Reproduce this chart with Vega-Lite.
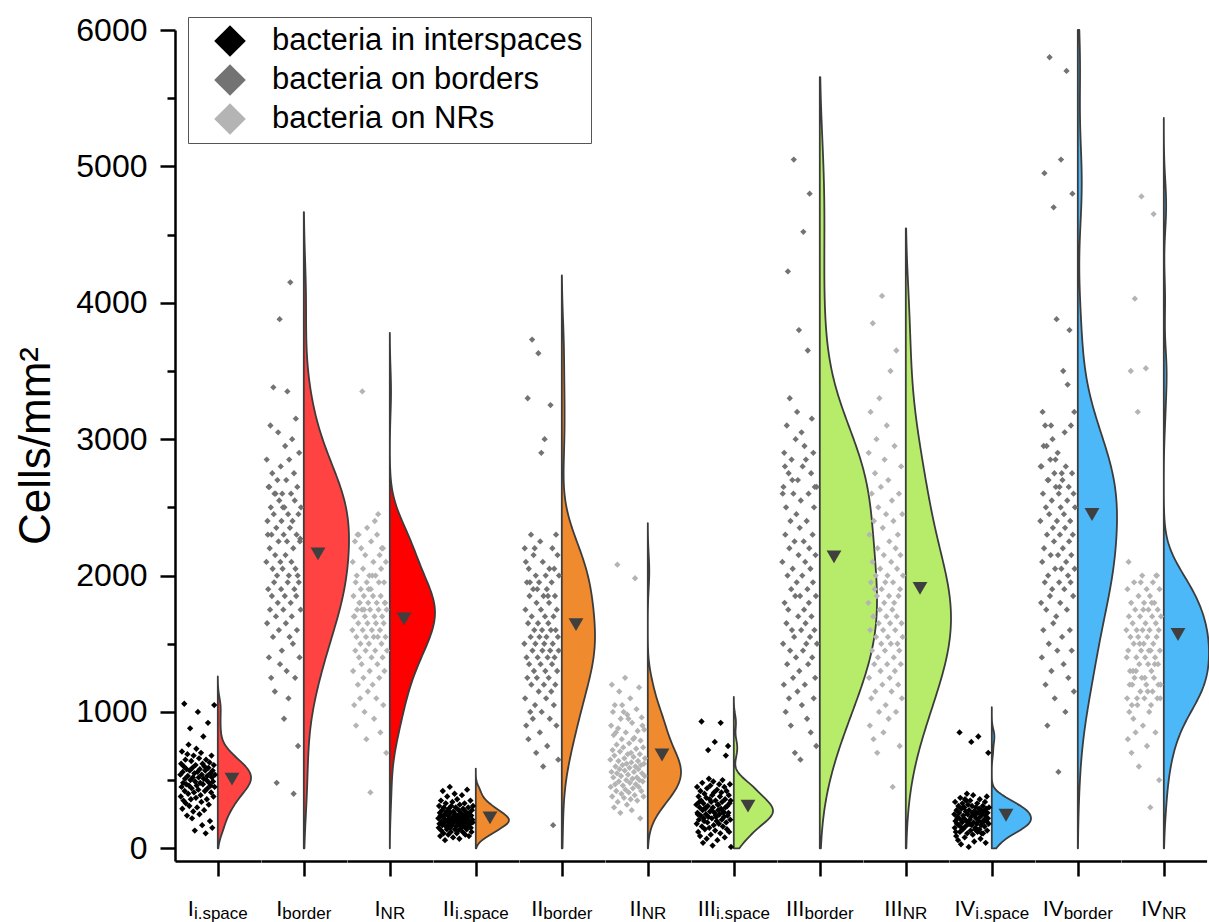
{
"$schema": "https://vega.github.io/schema/vega-lite/v6.json",
"padding": {"left": 14, "top": 14, "right": 0, "bottom": 0},
"bounds": "flush",
"config": {"font": "Liberation Sans", "view": {"stroke": null}},
"datasets": {
"labs": [
{"g":1,"main":"I","sub":"i.space","cat":"bacteria in interspaces"},
{"g":2,"main":"I","sub":"border","cat":"bacteria on borders"},
{"g":3,"main":"I","sub":"NR","cat":"bacteria on NRs"},
{"g":4,"main":"II","sub":"i.space","cat":"bacteria in interspaces"},
{"g":5,"main":"II","sub":"border","cat":"bacteria on borders"},
{"g":6,"main":"II","sub":"NR","cat":"bacteria on NRs"},
{"g":7,"main":"III","sub":"i.space","cat":"bacteria in interspaces"},
{"g":8,"main":"III","sub":"border","cat":"bacteria on borders"},
{"g":9,"main":"III","sub":"NR","cat":"bacteria on NRs"},
{"g":10,"main":"IV","sub":"i.space","cat":"bacteria in interspaces"},
{"g":11,"main":"IV","sub":"border","cat":"bacteria on borders"},
{"g":12,"main":"IV","sub":"NR","cat":"bacteria on NRs"}
],
"pts": [
{"g":1,"v":540},{"g":1,"v":380},{"g":1,"v":620},{"g":1,"v":450},{"g":1,"v":710},{"g":1,"v":290},{"g":1,"v":560},{"g":1,"v":480},{"g":1,"v":350},{"g":1,"v":600},{"g":1,"v":1060},{"g":1,"v":420},{"g":1,"v":510},{"g":1,"v":650},{"g":1,"v":330},{"g":1,"v":470},{"g":1,"v":580},{"g":1,"v":240},{"g":1,"v":690},{"g":1,"v":530},{"g":1,"v":400},{"g":1,"v":760},{"g":1,"v":460},{"g":1,"v":310},{"g":1,"v":570},{"g":1,"v":880},{"g":1,"v":500},{"g":1,"v":360},{"g":1,"v":640},{"g":1,"v":440},{"g":1,"v":220},{"g":1,"v":590},{"g":1,"v":520},{"g":1,"v":270},{"g":1,"v":680},{"g":1,"v":410},{"g":1,"v":550},{"g":1,"v":130},{"g":1,"v":490},{"g":1,"v":610},{"g":1,"v":370},{"g":1,"v":730},{"g":1,"v":460},{"g":1,"v":300},{"g":1,"v":560},{"g":1,"v":1000},{"g":1,"v":430},{"g":1,"v":520},{"g":1,"v":660},{"g":1,"v":250},{"g":1,"v":580},{"g":1,"v":480},{"g":1,"v":390},{"g":1,"v":700},{"g":1,"v":340},{"g":1,"v":540},{"g":1,"v":170},{"g":1,"v":620},{"g":1,"v":470},{"g":1,"v":820},{"g":1,"v":510},{"g":1,"v":280},{"g":1,"v":600},{"g":1,"v":420},{"g":1,"v":570},{"g":1,"v":110},{"g":1,"v":650},{"g":1,"v":500},{"g":1,"v":360},{"g":1,"v":530},{"g":1,"v":440},{"g":1,"v":920},{"g":1,"v":590},{"g":1,"v":320},{"g":1,"v":480},{"g":1,"v":630},{"g":1,"v":200},{"g":1,"v":550},{"g":1,"v":460},{"g":1,"v":410},{"g":1,"v":680},{"g":1,"v":520},{"g":1,"v":150},{"g":1,"v":570},{"g":1,"v":490},{"g":1,"v":380},{"g":1,"v":610},{"g":1,"v":1050},{"g":1,"v":450},{"g":1,"v":540},
{"g":2,"v":2100},{"g":2,"v":2850},{"g":2,"v":1650},{"g":2,"v":2400},{"g":2,"v":2300},{"g":2,"v":1900},{"g":2,"v":2650},{"g":2,"v":1400},{"g":2,"v":2650},{"g":2,"v":2200},{"g":2,"v":1750},{"g":2,"v":3100},{"g":2,"v":2500},{"g":2,"v":1250},{"g":2,"v":2300},{"g":2,"v":1850},{"g":2,"v":2750},{"g":2,"v":2050},{"g":2,"v":1550},{"g":2,"v":3380},{"g":2,"v":2450},{"g":2,"v":1950},{"g":2,"v":2600},{"g":2,"v":1150},{"g":2,"v":2150},{"g":2,"v":2600},{"g":2,"v":1700},{"g":2,"v":2350},{"g":2,"v":480},{"g":2,"v":2000},{"g":2,"v":2700},{"g":2,"v":1800},{"g":2,"v":3050},{"g":2,"v":2250},{"g":2,"v":1600},{"g":2,"v":2550},{"g":2,"v":3880},{"g":2,"v":1350},{"g":2,"v":2100},{"g":2,"v":2800},{"g":2,"v":1900},{"g":2,"v":2400},{"g":2,"v":1450},{"g":2,"v":2600},{"g":2,"v":2050},{"g":2,"v":2500},{"g":2,"v":1750},{"g":2,"v":2300},{"g":2,"v":950},{"g":2,"v":2500},{"g":2,"v":1850},{"g":2,"v":2950},{"g":2,"v":2150},{"g":2,"v":1650},{"g":2,"v":2700},{"g":2,"v":1300},{"g":2,"v":2250},{"g":2,"v":3350},{"g":2,"v":1950},{"g":2,"v":2450},{"g":2,"v":1100},{"g":2,"v":2000},{"g":2,"v":2850},{"g":2,"v":1550},{"g":2,"v":2350},{"g":2,"v":4150},{"g":2,"v":1800},{"g":2,"v":2600},{"g":2,"v":2100},{"g":2,"v":1700},{"g":2,"v":3000},{"g":2,"v":2400},{"g":2,"v":1500},{"g":2,"v":2200},{"g":2,"v":400},{"g":2,"v":2750},{"g":2,"v":1900},{"g":2,"v":2550},{"g":2,"v":1250},{"g":2,"v":2050},{"g":2,"v":3150},{"g":2,"v":1850},{"g":2,"v":2300},{"g":2,"v":1600},{"g":2,"v":2650},{"g":2,"v":2000},{"g":2,"v":750},{"g":2,"v":2450},{"g":2,"v":1950},{"g":2,"v":2900},{"g":2,"v":1400},{"g":2,"v":2250},{"g":2,"v":2270},{"g":2,"v":1750},{"g":2,"v":2500},
{"g":3,"v":1600},{"g":3,"v":2100},{"g":3,"v":1300},{"g":3,"v":1850},{"g":3,"v":1700},{"g":3,"v":1050},{"g":3,"v":1700},{"g":3,"v":2250},{"g":3,"v":1450},{"g":3,"v":1950},{"g":3,"v":900},{"g":3,"v":1550},{"g":3,"v":2000},{"g":3,"v":1750},{"g":3,"v":2300},{"g":3,"v":1200},{"g":3,"v":1650},{"g":3,"v":2300},{"g":3,"v":1400},{"g":3,"v":1800},{"g":3,"v":1800},{"g":3,"v":1100},{"g":3,"v":1500},{"g":3,"v":1900},{"g":3,"v":2200},{"g":3,"v":1350},{"g":3,"v":1750},{"g":3,"v":3350},{"g":3,"v":1600},{"g":3,"v":2050},{"g":3,"v":1250},{"g":3,"v":1850},{"g":3,"v":1750},{"g":3,"v":1000},{"g":3,"v":1700},{"g":3,"v":2150},{"g":3,"v":1450},{"g":3,"v":1550},{"g":3,"v":800},{"g":3,"v":1950},{"g":3,"v":2350},{"g":3,"v":1650},{"g":3,"v":1150},{"g":3,"v":1800},{"g":3,"v":1900},{"g":3,"v":1500},{"g":3,"v":2000},{"g":3,"v":1300},{"g":3,"v":1750},{"g":3,"v":410},{"g":3,"v":1900},{"g":3,"v":2250},{"g":3,"v":1400},{"g":3,"v":1600},{"g":3,"v":2000},{"g":3,"v":1200},{"g":3,"v":1850},{"g":3,"v":2100},{"g":3,"v":1550},{"g":3,"v":950},{"g":3,"v":1700},{"g":3,"v":2400},{"g":3,"v":1450},{"g":3,"v":2000},{"g":3,"v":1650},{"g":3,"v":1100},{"g":3,"v":1800},{"g":3,"v":2300},{"g":3,"v":1350},{"g":3,"v":1550},{"g":3,"v":2450},{"g":3,"v":1750},{"g":3,"v":1950},{"g":3,"v":1250},{"g":3,"v":2150},{"g":3,"v":1600},{"g":3,"v":850},{"g":3,"v":1850},{"g":3,"v":2050},{"g":3,"v":1500},{"g":3,"v":2200},{"g":3,"v":1700},{"g":3,"v":1400},{"g":3,"v":2200},{"g":3,"v":1050},{"g":3,"v":1650},{"g":3,"v":1950},{"g":3,"v":1300},{"g":3,"v":1800},{"g":3,"v":1800},{"g":3,"v":1550},{"g":3,"v":2100},{"g":3,"v":700},{"g":3,"v":1750},{"g":3,"v":1450},
{"g":4,"v":220},{"g":4,"v":150},{"g":4,"v":310},{"g":4,"v":180},{"g":4,"v":260},{"g":4,"v":90},{"g":4,"v":240},{"g":4,"v":350},{"g":4,"v":130},{"g":4,"v":200},{"g":4,"v":280},{"g":4,"v":170},{"g":4,"v":420},{"g":4,"v":230},{"g":4,"v":110},{"g":4,"v":300},{"g":4,"v":190},{"g":4,"v":250},{"g":4,"v":60},{"g":4,"v":210},{"g":4,"v":330},{"g":4,"v":160},{"g":4,"v":270},{"g":4,"v":140},{"g":4,"v":380},{"g":4,"v":200},{"g":4,"v":240},{"g":4,"v":100},{"g":4,"v":290},{"g":4,"v":180},{"g":4,"v":220},{"g":4,"v":450},{"g":4,"v":150},{"g":4,"v":260},{"g":4,"v":120},{"g":4,"v":310},{"g":4,"v":200},{"g":4,"v":170},{"g":4,"v":340},{"g":4,"v":230},{"g":4,"v":80},{"g":4,"v":270},{"g":4,"v":190},{"g":4,"v":210},{"g":4,"v":400},{"g":4,"v":140},{"g":4,"v":250},{"g":4,"v":300},{"g":4,"v":160},{"g":4,"v":220},{"g":4,"v":110},{"g":4,"v":360},{"g":4,"v":190},{"g":4,"v":240},{"g":4,"v":130},{"g":4,"v":280},{"g":4,"v":200},{"g":4,"v":70},{"g":4,"v":320},{"g":4,"v":170},{"g":4,"v":230},{"g":4,"v":260},{"g":4,"v":150},{"g":4,"v":210},{"g":4,"v":390},{"g":4,"v":180},{"g":4,"v":120},{"g":4,"v":290},{"g":4,"v":240},{"g":4,"v":200},{"g":4,"v":160},{"g":4,"v":330},{"g":4,"v":220},{"g":4,"v":100},{"g":4,"v":270},{"g":4,"v":190},{"g":4,"v":250},{"g":4,"v":140},{"g":4,"v":430},{"g":4,"v":210},{"g":4,"v":170},{"g":4,"v":300},{"g":4,"v":230},{"g":4,"v":90},{"g":4,"v":260},{"g":4,"v":200},{"g":4,"v":180},{"g":4,"v":350},{"g":4,"v":150},{"g":4,"v":240},{"g":4,"v":120},{"g":4,"v":280},{"g":4,"v":210},{"g":4,"v":190},{"g":4,"v":310},
{"g":5,"v":1500},{"g":5,"v":2200},{"g":5,"v":1100},{"g":5,"v":1750},{"g":5,"v":2100},{"g":5,"v":900},{"g":5,"v":1400},{"g":5,"v":1950},{"g":5,"v":1250},{"g":5,"v":3300},{"g":5,"v":1650},{"g":5,"v":800},{"g":5,"v":2050},{"g":5,"v":1350},{"g":5,"v":1850},{"g":5,"v":1950},{"g":5,"v":1000},{"g":5,"v":1550},{"g":5,"v":2300},{"g":5,"v":1200},{"g":5,"v":1700},{"g":5,"v":3730},{"g":5,"v":1450},{"g":5,"v":950},{"g":5,"v":1900},{"g":5,"v":2150},{"g":5,"v":1300},{"g":5,"v":1600},{"g":5,"v":2200},{"g":5,"v":1050},{"g":5,"v":1500},{"g":5,"v":2000},{"g":5,"v":700},{"g":5,"v":1800},{"g":5,"v":1250},{"g":5,"v":1900},{"g":5,"v":1400},{"g":5,"v":1650},{"g":5,"v":3630},{"g":5,"v":1150},{"g":5,"v":1950},{"g":5,"v":1550},{"g":5,"v":850},{"g":5,"v":2250},{"g":5,"v":1350},{"g":5,"v":1750},{"g":5,"v":2900},{"g":5,"v":1000},{"g":5,"v":1600},{"g":5,"v":1450},{"g":5,"v":2100},{"g":5,"v":600},{"g":5,"v":1850},{"g":5,"v":1200},{"g":5,"v":1500},{"g":5,"v":3000},{"g":5,"v":1700},{"g":5,"v":1300},{"g":5,"v":2000},{"g":5,"v":1100},{"g":5,"v":1550},{"g":5,"v":1900},{"g":5,"v":750},{"g":5,"v":1400},{"g":5,"v":1850},{"g":5,"v":1650},{"g":5,"v":1250},{"g":5,"v":1800},{"g":5,"v":2050},{"g":5,"v":950},{"g":5,"v":1450},{"g":5,"v":3250},{"g":5,"v":1600},{"g":5,"v":1150},{"g":5,"v":1950},{"g":5,"v":1350},{"g":5,"v":2200},{"g":5,"v":1500},{"g":5,"v":170},{"g":5,"v":1700},{"g":5,"v":1050},{"g":5,"v":2050},{"g":5,"v":1400},{"g":5,"v":1850},{"g":5,"v":1200},{"g":5,"v":1600},{"g":5,"v":2300},{"g":5,"v":900},{"g":5,"v":1750},{"g":5,"v":1300},{"g":5,"v":2150},{"g":5,"v":1550},{"g":5,"v":650},{"g":5,"v":1450},{"g":5,"v":2000},
{"g":6,"v":650},{"g":6,"v":450},{"g":6,"v":900},{"g":6,"v":560},{"g":6,"v":1200},{"g":6,"v":380},{"g":6,"v":720},{"g":6,"v":1000},{"g":6,"v":520},{"g":6,"v":830},{"g":6,"v":300},{"g":6,"v":680},{"g":6,"v":1050},{"g":6,"v":470},{"g":6,"v":600},{"g":6,"v":850},{"g":6,"v":420},{"g":6,"v":760},{"g":6,"v":550},{"g":6,"v":2080},{"g":6,"v":340},{"g":6,"v":880},{"g":6,"v":640},{"g":6,"v":490},{"g":6,"v":1150},{"g":6,"v":580},{"g":6,"v":710},{"g":6,"v":260},{"g":6,"v":950},{"g":6,"v":530},{"g":6,"v":400},{"g":6,"v":800},{"g":6,"v":1050},{"g":6,"v":610},{"g":6,"v":460},{"g":6,"v":740},{"g":6,"v":1000},{"g":6,"v":370},{"g":6,"v":660},{"g":6,"v":570},{"g":6,"v":1250},{"g":6,"v":430},{"g":6,"v":850},{"g":6,"v":500},{"g":6,"v":620},{"g":6,"v":320},{"g":6,"v":980},{"g":6,"v":690},{"g":6,"v":540},{"g":6,"v":950},{"g":6,"v":410},{"g":6,"v":770},{"g":6,"v":590},{"g":6,"v":480},{"g":6,"v":1100},{"g":6,"v":360},{"g":6,"v":700},{"g":6,"v":630},{"g":6,"v":280},{"g":6,"v":920},{"g":6,"v":510},{"g":6,"v":440},{"g":6,"v":800},{"g":6,"v":670},{"g":6,"v":560},{"g":6,"v":810},{"g":6,"v":390},{"g":6,"v":1980},{"g":6,"v":600},{"g":6,"v":470},{"g":6,"v":730},{"g":6,"v":1020},{"g":6,"v":520},{"g":6,"v":350},{"g":6,"v":860},{"g":6,"v":640},{"g":6,"v":580},{"g":6,"v":450},{"g":6,"v":1180},{"g":6,"v":500},{"g":6,"v":690},{"g":6,"v":220},{"g":6,"v":790},{"g":6,"v":610},{"g":6,"v":420},{"g":6,"v":960},{"g":6,"v":550},{"g":6,"v":900},{"g":6,"v":490},{"g":6,"v":740},{"g":6,"v":380},{"g":6,"v":620},{"g":6,"v":870},{"g":6,"v":530},{"g":6,"v":660},
{"g":7,"v":320},{"g":7,"v":180},{"g":7,"v":450},{"g":7,"v":260},{"g":7,"v":250},{"g":7,"v":120},{"g":7,"v":380},{"g":7,"v":210},{"g":7,"v":340},{"g":7,"v":300},{"g":7,"v":90},{"g":7,"v":420},{"g":7,"v":240},{"g":7,"v":350},{"g":7,"v":930},{"g":7,"v":160},{"g":7,"v":480},{"g":7,"v":280},{"g":7,"v":40},{"g":7,"v":330},{"g":7,"v":220},{"g":7,"v":200},{"g":7,"v":400},{"g":7,"v":140},{"g":7,"v":290},{"g":7,"v":300},{"g":7,"v":250},{"g":7,"v":370},{"g":7,"v":70},{"g":7,"v":440},{"g":7,"v":190},{"g":7,"v":310},{"g":7,"v":720},{"g":7,"v":230},{"g":7,"v":510},{"g":7,"v":150},{"g":7,"v":360},{"g":7,"v":270},{"g":7,"v":460},{"g":7,"v":100},{"g":7,"v":340},{"g":7,"v":280},{"g":7,"v":220},{"g":7,"v":390},{"g":7,"v":20},{"g":7,"v":300},{"g":7,"v":490},{"g":7,"v":170},{"g":7,"v":410},{"g":7,"v":260},{"g":7,"v":780},{"g":7,"v":130},{"g":7,"v":350},{"g":7,"v":240},{"g":7,"v":230},{"g":7,"v":200},{"g":7,"v":430},{"g":7,"v":60},{"g":7,"v":320},{"g":7,"v":280},{"g":7,"v":320},{"g":7,"v":180},{"g":7,"v":470},{"g":7,"v":250},{"g":7,"v":380},{"g":7,"v":110},{"g":7,"v":920},{"g":7,"v":290},{"g":7,"v":410},{"g":7,"v":210},{"g":7,"v":340},{"g":7,"v":500},{"g":7,"v":160},{"g":7,"v":270},{"g":7,"v":260},{"g":7,"v":230},{"g":7,"v":450},{"g":7,"v":80},{"g":7,"v":360},{"g":7,"v":300},{"g":7,"v":680},{"g":7,"v":190},{"g":7,"v":420},{"g":7,"v":140},{"g":7,"v":310},{"g":7,"v":240},{"g":7,"v":750},{"g":7,"v":260},{"g":7,"v":390},{"g":7,"v":120},{"g":7,"v":330},{"g":7,"v":470},{"g":7,"v":210},{"g":7,"v":350},{"g":7,"v":10},
{"g":8,"v":2100},{"g":8,"v":2600},{"g":8,"v":1500},{"g":8,"v":2650},{"g":8,"v":1200},{"g":8,"v":2900},{"g":8,"v":1800},{"g":8,"v":2800},{"g":8,"v":2300},{"g":8,"v":1000},{"g":8,"v":2500},{"g":8,"v":1650},{"g":8,"v":3100},{"g":8,"v":1350},{"g":8,"v":2000},{"g":8,"v":4230},{"g":8,"v":1750},{"g":8,"v":2750},{"g":8,"v":1100},{"g":8,"v":2200},{"g":8,"v":3300},{"g":8,"v":1450},{"g":8,"v":2400},{"g":8,"v":900},{"g":8,"v":1900},{"g":8,"v":2850},{"g":8,"v":1600},{"g":8,"v":2700},{"g":8,"v":2050},{"g":8,"v":1250},{"g":8,"v":2600},{"g":8,"v":5050},{"g":8,"v":1550},{"g":8,"v":2250},{"g":8,"v":700},{"g":8,"v":1850},{"g":8,"v":3000},{"g":8,"v":1400},{"g":8,"v":2450},{"g":8,"v":1950},{"g":8,"v":3200},{"g":8,"v":1150},{"g":8,"v":2700},{"g":8,"v":1700},{"g":8,"v":2150},{"g":8,"v":3800},{"g":8,"v":1300},{"g":8,"v":2350},{"g":8,"v":1850},{"g":8,"v":650},{"g":8,"v":2550},{"g":8,"v":1600},{"g":8,"v":3050},{"g":8,"v":1050},{"g":8,"v":2000},{"g":8,"v":2800},{"g":8,"v":1450},{"g":8,"v":4520},{"g":8,"v":2250},{"g":8,"v":1750},{"g":8,"v":2950},{"g":8,"v":1200},{"g":8,"v":2100},{"g":8,"v":1650},{"g":8,"v":2850},{"g":8,"v":1500},{"g":8,"v":2400},{"g":8,"v":950},{"g":8,"v":1900},{"g":8,"v":3650},{"g":8,"v":1350},{"g":8,"v":2600},{"g":8,"v":1800},{"g":8,"v":2200},{"g":8,"v":4800},{"g":8,"v":1550},{"g":8,"v":2050},{"g":8,"v":850},{"g":8,"v":2750},{"g":8,"v":1700},{"g":8,"v":3150},{"g":8,"v":1400},{"g":8,"v":2300},{"g":8,"v":1950},{"g":8,"v":2900},{"g":8,"v":1100},{"g":8,"v":2500},{"g":8,"v":1600},{"g":8,"v":2650},{"g":8,"v":1250},{"g":8,"v":2150},{"g":8,"v":1850},{"g":8,"v":750},{"g":8,"v":2650},{"g":8,"v":1500},
{"g":9,"v":1800},{"g":9,"v":2900},{"g":9,"v":1250},{"g":9,"v":2300},{"g":9,"v":900},{"g":9,"v":1600},{"g":9,"v":3200},{"g":9,"v":1950},{"g":9,"v":1100},{"g":9,"v":2600},{"g":9,"v":1450},{"g":9,"v":2100},{"g":9,"v":3850},{"g":9,"v":1700},{"g":9,"v":800},{"g":9,"v":2400},{"g":9,"v":1350},{"g":9,"v":1900},{"g":9,"v":2750},{"g":9,"v":1150},{"g":9,"v":2000},{"g":9,"v":1550},{"g":9,"v":3000},{"g":9,"v":1850},{"g":9,"v":700},{"g":9,"v":2200},{"g":9,"v":1400},{"g":9,"v":2500},{"g":9,"v":1650},{"g":9,"v":1000},{"g":9,"v":3300},{"g":9,"v":1750},{"g":9,"v":2050},{"g":9,"v":1300},{"g":9,"v":2650},{"g":9,"v":1500},{"g":9,"v":1900},{"g":9,"v":4050},{"g":9,"v":1200},{"g":9,"v":2350},{"g":9,"v":1600},{"g":9,"v":850},{"g":9,"v":2150},{"g":9,"v":1800},{"g":9,"v":2850},{"g":9,"v":1450},{"g":9,"v":1950},{"g":9,"v":1050},{"g":9,"v":2450},{"g":9,"v":1700},{"g":9,"v":3100},{"g":9,"v":1350},{"g":9,"v":2000},{"g":9,"v":1550},{"g":9,"v":2700},{"g":9,"v":950},{"g":9,"v":1850},{"g":9,"v":2250},{"g":9,"v":1250},{"g":9,"v":1650},{"g":9,"v":3500},{"g":9,"v":1500},{"g":9,"v":2100},{"g":9,"v":1150},{"g":9,"v":2550},{"g":9,"v":1750},{"g":9,"v":450},{"g":9,"v":1950},{"g":9,"v":2400},{"g":9,"v":1400},{"g":9,"v":1800},{"g":9,"v":2950},{"g":9,"v":1300},{"g":9,"v":1600},{"g":9,"v":2200},{"g":9,"v":1000},{"g":9,"v":3650},{"g":9,"v":1700},{"g":9,"v":2050},{"g":9,"v":1500},{"g":9,"v":2300},{"g":9,"v":1200},{"g":9,"v":1850},{"g":9,"v":2600},{"g":9,"v":1450},{"g":9,"v":750},{"g":9,"v":1900},{"g":9,"v":2150},{"g":9,"v":1350},{"g":9,"v":2800},{"g":9,"v":1650},{"g":9,"v":1100},{"g":9,"v":2450},{"g":9,"v":1550},{"g":9,"v":2000},
{"g":10,"v":250},{"g":10,"v":150},{"g":10,"v":340},{"g":10,"v":200},{"g":10,"v":120},{"g":10,"v":90},{"g":10,"v":280},{"g":10,"v":180},{"g":10,"v":220},{"g":10,"v":230},{"g":10,"v":60},{"g":10,"v":310},{"g":10,"v":170},{"g":10,"v":260},{"g":10,"v":850},{"g":10,"v":120},{"g":10,"v":370},{"g":10,"v":210},{"g":10,"v":30},{"g":10,"v":290},{"g":10,"v":150},{"g":10,"v":190},{"g":10,"v":330},{"g":10,"v":140},{"g":10,"v":240},{"g":10,"v":300},{"g":10,"v":220},{"g":10,"v":300},{"g":10,"v":80},{"g":10,"v":360},{"g":10,"v":160},{"g":10,"v":270},{"g":10,"v":350},{"g":10,"v":200},{"g":10,"v":400},{"g":10,"v":110},{"g":10,"v":250},{"g":10,"v":320},{"g":10,"v":180},{"g":10,"v":10},{"g":10,"v":280},{"g":10,"v":180},{"g":10,"v":210},{"g":10,"v":350},{"g":10,"v":130},{"g":10,"v":230},{"g":10,"v":780},{"g":10,"v":170},{"g":10,"v":310},{"g":10,"v":260},{"g":10,"v":100},{"g":10,"v":390},{"g":10,"v":190},{"g":10,"v":270},{"g":10,"v":50},{"g":10,"v":240},{"g":10,"v":140},{"g":10,"v":150},{"g":10,"v":300},{"g":10,"v":220},{"g":10,"v":260},{"g":10,"v":180},{"g":10,"v":330},{"g":10,"v":120},{"g":10,"v":260},{"g":10,"v":820},{"g":10,"v":200},{"g":10,"v":290},{"g":10,"v":140},{"g":10,"v":360},{"g":10,"v":230},{"g":10,"v":70},{"g":10,"v":280},{"g":10,"v":170},{"g":10,"v":110},{"g":10,"v":250},{"g":10,"v":190},{"g":10,"v":310},{"g":10,"v":110},{"g":10,"v":270},{"g":10,"v":200},{"g":10,"v":210},{"g":10,"v":160},{"g":10,"v":340},{"g":10,"v":240},{"g":10,"v":40},{"g":10,"v":290},{"g":10,"v":200},{"g":10,"v":380},{"g":10,"v":130},{"g":10,"v":260},{"g":10,"v":220},{"g":10,"v":700},{"g":10,"v":180},{"g":10,"v":300},
{"g":11,"v":2400},{"g":11,"v":2800},{"g":11,"v":1800},{"g":11,"v":2800},{"g":11,"v":1400},{"g":11,"v":2100},{"g":11,"v":3200},{"g":11,"v":2600},{"g":11,"v":1600},{"g":11,"v":2950},{"g":11,"v":2200},{"g":11,"v":4950},{"g":11,"v":1950},{"g":11,"v":3100},{"g":11,"v":1200},{"g":11,"v":2500},{"g":11,"v":1750},{"g":11,"v":2950},{"g":11,"v":2300},{"g":11,"v":900},{"g":11,"v":2700},{"g":11,"v":2000},{"g":11,"v":2700},{"g":11,"v":1500},{"g":11,"v":2450},{"g":11,"v":5800},{"g":11,"v":1850},{"g":11,"v":2850},{"g":11,"v":2150},{"g":11,"v":3100},{"g":11,"v":1300},{"g":11,"v":2550},{"g":11,"v":1900},{"g":11,"v":3000},{"g":11,"v":2350},{"g":11,"v":1650},{"g":11,"v":4700},{"g":11,"v":2250},{"g":11,"v":2750},{"g":11,"v":1100},{"g":11,"v":2050},{"g":11,"v":2850},{"g":11,"v":2650},{"g":11,"v":1700},{"g":11,"v":3880},{"g":11,"v":2400},{"g":11,"v":1450},{"g":11,"v":2900},{"g":11,"v":2150},{"g":11,"v":560},{"g":11,"v":2600},{"g":11,"v":1950},{"g":11,"v":2650},{"g":11,"v":2300},{"g":11,"v":1800},{"g":11,"v":2500},{"g":11,"v":5050},{"g":11,"v":2050},{"g":11,"v":2750},{"g":11,"v":1550},{"g":11,"v":2700},{"g":11,"v":2200},{"g":11,"v":3500},{"g":11,"v":1350},{"g":11,"v":2450},{"g":11,"v":1900},{"g":11,"v":3050},{"g":11,"v":2350},{"g":11,"v":1000},{"g":11,"v":2800},{"g":11,"v":2100},{"g":11,"v":5700},{"g":11,"v":1750},{"g":11,"v":2550},{"g":11,"v":3400},{"g":11,"v":2000},{"g":11,"v":1250},{"g":11,"v":2650},{"g":11,"v":2250},{"g":11,"v":3800},{"g":11,"v":1600},{"g":11,"v":2400},{"g":11,"v":1950},{"g":11,"v":3100},{"g":11,"v":2150},{"g":11,"v":1450},{"g":11,"v":2750},{"g":11,"v":4800},{"g":11,"v":2300},{"g":11,"v":1850},{"g":11,"v":2600},{"g":11,"v":1150},{"g":11,"v":3200},{"g":11,"v":2050},{"g":11,"v":2500},
{"g":12,"v":1600},{"g":12,"v":1400},{"g":12,"v":1100},{"g":12,"v":1900},{"g":12,"v":800},{"g":12,"v":1450},{"g":12,"v":2100},{"g":12,"v":1700},{"g":12,"v":1000},{"g":12,"v":1200},{"g":12,"v":1300},{"g":12,"v":1550},{"g":12,"v":3500},{"g":12,"v":1800},{"g":12,"v":700},{"g":12,"v":1050},{"g":12,"v":1200},{"g":12,"v":1650},{"g":12,"v":1300},{"g":12,"v":950},{"g":12,"v":1500},{"g":12,"v":1950},{"g":12,"v":1250},{"g":12,"v":4030},{"g":12,"v":1750},{"g":12,"v":850},{"g":12,"v":1300},{"g":12,"v":1400},{"g":12,"v":1600},{"g":12,"v":1100},{"g":12,"v":1050},{"g":12,"v":3200},{"g":12,"v":1550},{"g":12,"v":1850},{"g":12,"v":600},{"g":12,"v":1350},{"g":12,"v":1500},{"g":12,"v":1700},{"g":12,"v":1150},{"g":12,"v":1950},{"g":12,"v":1450},{"g":12,"v":4780},{"g":12,"v":1250},{"g":12,"v":2000},{"g":12,"v":1600},{"g":12,"v":900},{"g":12,"v":1750},{"g":12,"v":1500},{"g":12,"v":1800},{"g":12,"v":1100},{"g":12,"v":1250},{"g":12,"v":1400},{"g":12,"v":1650},{"g":12,"v":3520},{"g":12,"v":1200},{"g":12,"v":1900},{"g":12,"v":750},{"g":12,"v":1550},{"g":12,"v":1150},{"g":12,"v":1350},{"g":12,"v":1750},{"g":12,"v":1450},{"g":12,"v":1000},{"g":12,"v":1600},{"g":12,"v":1850},{"g":12,"v":300},{"g":12,"v":1450},{"g":12,"v":1050},{"g":12,"v":1300},{"g":12,"v":1800},{"g":12,"v":1700},{"g":12,"v":1150},{"g":12,"v":1950},{"g":12,"v":1500},{"g":12,"v":4650},{"g":12,"v":1250},{"g":12,"v":1800},{"g":12,"v":1350},{"g":12,"v":1400},{"g":12,"v":850},{"g":12,"v":1650},{"g":12,"v":2000},{"g":12,"v":1550},{"g":12,"v":2000},{"g":12,"v":1100},{"g":12,"v":1750},{"g":12,"v":1350},{"g":12,"v":1200},{"g":12,"v":1600},{"g":12,"v":500},{"g":12,"v":1900},{"g":12,"v":1450},{"g":12,"v":1100},{"g":12,"v":1200},{"g":12,"v":1700}
]
},
"data": {"name": "pts"},
"transform": [{"lookup": "g", "from": {"data": {"name": "labs"}, "key": "g", "fields": ["main", "sub", "cat"]}}],
"facet": {"column": {"field": "g", "type": "ordinal", "header": null}},
"spacing": 0,
"resolve": {"scale": {"x": "independent"}, "axis": {"x": "independent"}},
"spec": {
"width": 85.6,
"height": 831,
"resolve": {"scale": {"x": "independent"}, "axis": {"x": "independent"}},
"layer": [
{
"transform": [
{"filter": {"field": "g", "oneOf": [1, 4, 5, 6]}},
{"joinaggregate": [{"op": "max", "field": "v", "as": "vmax"}], "groupby": ["g"]},
{"density": "v", "groupby": ["g", "vmax"], "extent": [0, 6000], "steps": 400, "as": ["value", "density"]},
{"filter": "datum.value <= datum.vmax * 1.1 + 100"}
],
"mark": {"type": "area", "orient": "horizontal", "stroke": "#3c3c3c", "strokeWidth": 1.8, "strokeJoin": "round"},
"encoding": {
"y": {"field": "value", "type": "quantitative", "scale": {"domain": [-93, 6000], "nice": false, "zero": false},
"axis": {"title": "Cells/mm²", "titleFontSize": 44, "titleFontWeight": "normal", "titleColor": "#000", "titlePadding": 17, "values": [0,500,1000,1500,2000,2500,3000,3500,4000,4500,5000,5500,6000], "labelExpr": "datum.value % 1000 == 0 ? datum.label : ''", "format": "d", "labelFontSize": 32, "labelColor": "#000", "labelPadding": 13, "labelFlush": false, "labelOverlap": false, "tickSize": {"condition": {"test": "datum.value % 1000 != 0", "value": 8}, "value": 15}, "tickWidth": 2.5, "tickColor": "#000", "domainWidth": 2.5, "domainColor": "#000", "grid": false}},
"x": {"field": "density", "type": "quantitative", "scale": {"range": [42.8, 76], "nice": false, "zero": true}, "axis": null},
"fill": {"field": "g", "type": "ordinal", "scale": {"domain": [1,2,3,4,5,6,7,8,9,10,11,12], "range": ["#ff4242","#ff4242","#ff0000","#f08a2e","#f08a2e","#f08a2e","#b7ec6b","#b7ec6b","#b7ec6b","#4db8f8","#4db8f8","#4db8f8"]}, "legend": null}
}
},
{
"transform": [
{"filter": {"field": "g", "oneOf": [7, 10, 11]}},
{"joinaggregate": [{"op": "max", "field": "v", "as": "vmax"}], "groupby": ["g"]},
{"density": "v", "groupby": ["g", "vmax"], "extent": [0, 6000], "steps": 400, "as": ["value", "density"]},
{"filter": "datum.value <= datum.vmax * 1.1 + 100"}
],
"mark": {"type": "area", "orient": "horizontal", "stroke": "#3c3c3c", "strokeWidth": 1.8, "strokeJoin": "round"},
"encoding": {
"y": {"field": "value", "type": "quantitative"},
"x": {"field": "density", "type": "quantitative", "scale": {"range": [42.8, 82], "nice": false, "zero": true}, "axis": null},
"fill": {"field": "g", "type": "ordinal", "legend": null}
}
},
{
"transform": [
{"filter": {"field": "g", "oneOf": [2, 3, 9, 12]}},
{"joinaggregate": [{"op": "max", "field": "v", "as": "vmax"}], "groupby": ["g"]},
{"density": "v", "groupby": ["g", "vmax"], "extent": [0, 6000], "steps": 400, "as": ["value", "density"]},
{"filter": "datum.value <= datum.vmax * 1.1 + 100"}
],
"mark": {"type": "area", "orient": "horizontal", "stroke": "#3c3c3c", "strokeWidth": 1.8, "strokeJoin": "round"},
"encoding": {
"y": {"field": "value", "type": "quantitative"},
"x": {"field": "density", "type": "quantitative", "scale": {"range": [42.8, 88], "nice": false, "zero": true}, "axis": null},
"fill": {"field": "g", "type": "ordinal", "legend": null}
}
},
{
"transform": [
{"filter": {"field": "g", "oneOf": [8]}},
{"joinaggregate": [{"op": "max", "field": "v", "as": "vmax"}], "groupby": ["g"]},
{"density": "v", "groupby": ["g", "vmax"], "extent": [0, 6000], "steps": 400, "as": ["value", "density"]},
{"filter": "datum.value <= datum.vmax * 1.1 + 100"}
],
"mark": {"type": "area", "orient": "horizontal", "stroke": "#3c3c3c", "strokeWidth": 1.8, "strokeJoin": "round"},
"encoding": {
"y": {"field": "value", "type": "quantitative"},
"x": {"field": "density", "type": "quantitative", "scale": {"range": [42.8, 100], "nice": false, "zero": true}, "axis": null},
"fill": {"field": "g", "type": "ordinal", "legend": null}
}
},
{
"transform": [{"window": [{"op": "row_number", "as": "rn"}], "groupby": ["g"]}],
"mark": {"type": "point", "shape": "diamond", "filled": true, "size": 40, "opacity": 1},
"encoding": {
"x": {"field": "rn", "type": "quantitative", "scale": {"range": [5, 40], "nice": false, "zero": true}, "axis": null},
"y": {"field": "v", "type": "quantitative"},
"color": {"field": "cat", "type": "nominal", "scale": {"domain": ["bacteria in interspaces", "bacteria on borders", "bacteria on NRs"], "range": ["#000000", "#737373", "#b4b4b4"]},
"legend": {"orient": "none", "legendX": 13, "legendY": -13, "title": null, "symbolType": "diamond", "symbolSize": 1000, "symbolStrokeWidth": 0, "labelFontSize": 31, "labelColor": "#000", "labelLimit": 700, "padding": 8, "rowPadding": 7, "symbolOffset": 18, "labelOffset": 26, "strokeColor": "#555555", "fillColor": "#ffffff"}}
}
},
{
"transform": [{"aggregate": [{"op": "mean", "field": "v", "as": "m"}], "groupby": ["g"]}],
"mark": {"type": "point", "shape": "triangle-down", "filled": true, "size": 220, "color": "#3f3f3f", "opacity": 1},
"encoding": {
"x": {"datum": 57, "type": "quantitative", "scale": {"domain": [0, 85.6], "range": [0, 85.6], "nice": false, "zero": false},
"axis": {"values": [42.8], "labels": false, "ticks": true, "tickSize": 15, "tickWidth": 2.5, "tickColor": "#000", "domain": true, "domainWidth": 2.5, "domainColor": "#000", "grid": false, "title": null}},
"y": {"field": "m", "type": "quantitative"}
}
},
{
"transform": [{"aggregate": [{"op": "count", "as": "n"}], "groupby": ["g", "main", "sub"]}],
"mark": {"type": "text", "align": "left", "baseline": "alphabetic", "fontSize": 22, "color": "#000",
"dx": {"expr": "-((datum.main=='I'?6.1:datum.main=='II'?12.2:datum.main=='III'?18.4:20.8)+(datum.sub=='NR'?24.5:datum.sub=='border'?49.1:53.9))/2"}},
"encoding": {
"x": {"datum": 42.8, "type": "quantitative", "scale": {"domain": [0, 85.6], "range": [0, 85.6], "nice": false, "zero": false}, "axis": null},
"y": {"datum": -496, "type": "quantitative"},
"text": {"field": "main"}
}
},
{
"transform": [{"aggregate": [{"op": "count", "as": "n"}], "groupby": ["g", "main", "sub"]}],
"mark": {"type": "text", "align": "left", "baseline": "alphabetic", "fontSize": 17, "color": "#000",
"dx": {"expr": "-((datum.main=='I'?6.1:datum.main=='II'?12.2:datum.main=='III'?18.4:20.8)+(datum.sub=='NR'?24.5:datum.sub=='border'?49.1:53.9))/2+(datum.main=='I'?6.1:datum.main=='II'?12.2:datum.main=='III'?18.4:20.8)"}},
"encoding": {
"x": {"datum": 42.8, "type": "quantitative", "scale": {"domain": [0, 85.6], "range": [0, 85.6], "nice": false, "zero": false}, "axis": null},
"y": {"datum": -518, "type": "quantitative"},
"text": {"field": "sub"}
}
}
]
}
}
